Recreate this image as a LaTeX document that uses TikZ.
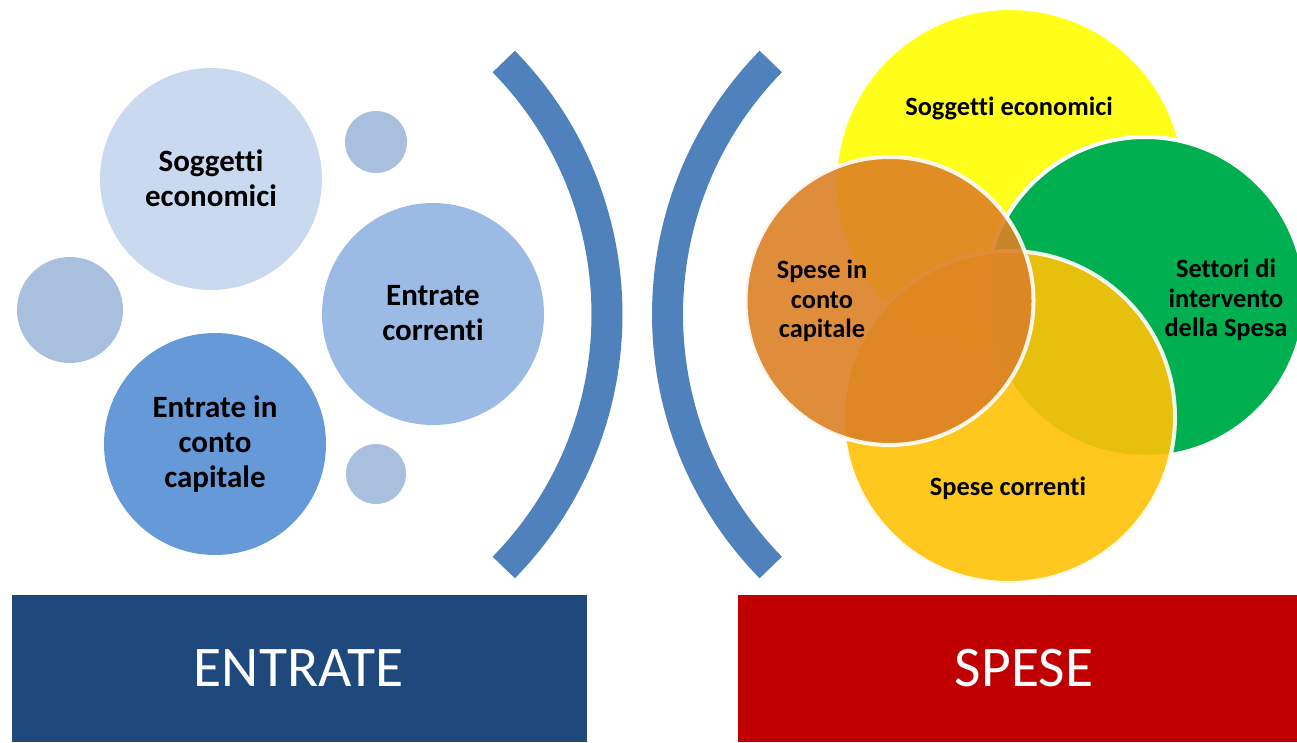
\documentclass[tikz,border=0pt]{standalone}
\usepackage{fontspec}
\setmainfont{Carlito}[Ligatures={NoCommon}]
\definecolor{lsog}{HTML}{C9DAF0}
\definecolor{lcor}{HTML}{9BBBE4}
\definecolor{lcap}{HTML}{6699D8}
\definecolor{lsmall}{HTML}{A8C0DE}
\definecolor{arcblue}{HTML}{4F81BD}
\definecolor{entrcol}{HTML}{1F497D}
\definecolor{spescol}{HTML}{C00000}
\definecolor{ryellow}{HTML}{FFFF1A}
\definecolor{rgreen}{HTML}{00B050}
\definecolor{rcorr}{HTML}{FFC205}
\definecolor{rcap}{HTML}{DD8126}
\begin{document}
\begin{tikzpicture}[x=1pt,y=-1pt,
  bub/.style={circle, inner sep=0pt, outer sep=0pt, minimum size=#1},
  rbub/.style={circle, inner sep=0pt, outer sep=0pt, minimum size=#1, draw=white, line width=4pt},
  ltxt/.style={align=center, inner sep=0pt, font=\bfseries\fontsize{31}{35}\selectfont},
  rtxt/.style={align=center, inner sep=0pt, font=\bfseries\fontsize{26.4}{29.5}\selectfont},
  bantxt/.style={inner sep=0pt, text=white, font=\fontsize{57.5}{62}\selectfont},
  arcline/.style={draw=arcblue, line width=31pt}]
\useasboundingbox (0,0) rectangle (1297,742);

% left bubbles
\node[bub=222pt, fill=lsog] (lsog) at (211,179) {};
\node[bub=62pt, fill=lsmall] (lsm1) at (376,142) {};
\node[bub=106pt, fill=lsmall] (lsm2) at (70,310) {};
\node[bub=222pt, fill=lcor] (lcor) at (433,314) {};
\node[bub=222pt, fill=lcap] (lcap) at (215,444) {};
\node[bub=60pt, fill=lsmall] (lsm3) at (376,474) {};

\node[ltxt] (tlsog) at (211,178) {Soggetti\\economici};
\node[ltxt] (tlcor) at (433,313.5) {Entrate\\correnti};
\node[ltxt] (tlcap) at (215,444) {Entrate in\\conto\\capitale};

% arcs
\draw[arcline] (245.4,314.5) ++(-44.4:361.6) arc[start angle=-44.4, end angle=44.4, radius=361.6];
\draw[arcline] (1029.1,314.5) ++(224.4:361.6) arc[start angle=224.4, end angle=135.6, radius=361.6];

% right bubbles
\node[rbub=350pt, fill=ryellow] (rsog) at (1010,183) {};
\node[rbub=320pt, fill=rgreen] (rset) at (1145,297) {};
\node[rbub=332pt, fill=rcorr, fill opacity=0.9, draw opacity=0.9] (rcor) at (1009,417) {};
\node[rbub=288pt, fill=rcap, fill opacity=0.9, draw opacity=0.9] (rcap) at (889.5,301) {};

\node[rtxt] (trsog) at (1009,108) {Soggetti economici};
\node[rtxt] (trset) at (1226,300) {Settori di\\intervento\\della Spesa};
\node[rtxt] (trcor) at (1008,488) {Spese correnti};
\node[rtxt] (trcap) at (822,301) {Spese in\\conto\\capitale};

% banners
\node[fill=entrcol, minimum width=575pt, minimum height=147pt, inner sep=0pt, outer sep=0pt] (bentr) at (299.5,668.5) {};
\node[fill=spescol, minimum width=559pt, minimum height=147pt, inner sep=0pt, outer sep=0pt] (bspes) at (1017.5,668.5) {};
\node[bantxt] (tentr) at (298.5,668) {ENTRATE};
\node[bantxt] (tspes) at (1024,668) {SPESE};
\end{tikzpicture}
\end{document}
